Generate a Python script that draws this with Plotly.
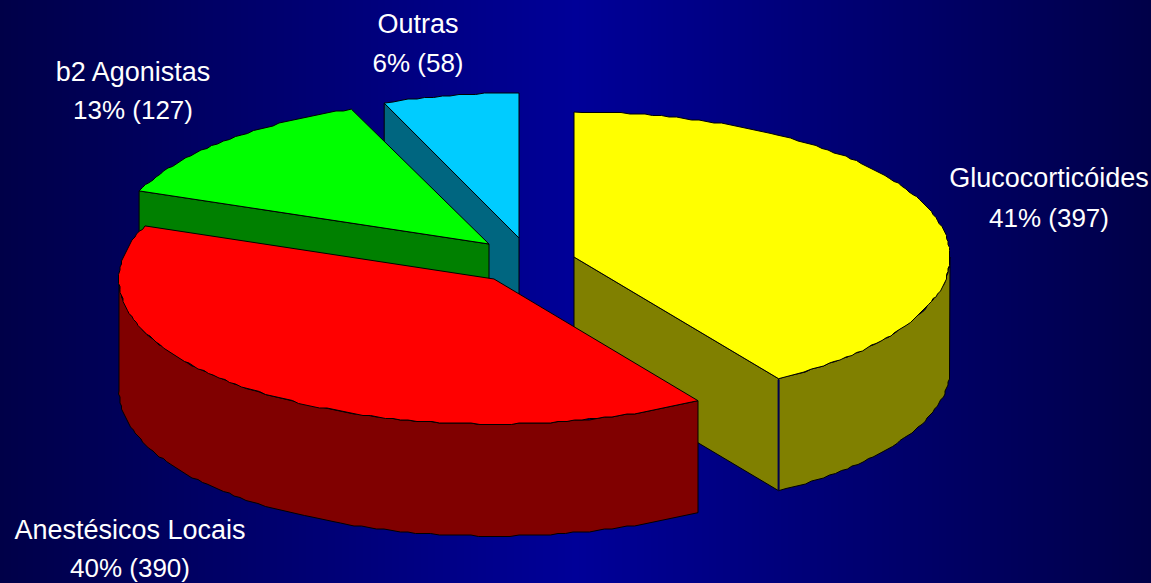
import numpy as np
import plotly.graph_objects as go

# Data
categories = ["Glucocorticóides", "Anestésicos Locais", "b2 Agonistas", "Outras"]
values = [397, 390, 127, 58]

# Colours
top_colors = ["#FFFF00", "#FF0000", "#00FF00", "#00CCFF"]
wall_colors = ["#808000", "#800000", "#008000", "#006680"]

# Pie geometry in page pixels
radius_x = [376, 375, 376, 368]
RY, DEPTH = 145, 112
GRID = 1.5  # the reference's curved edges are slightly stepped
apex_x = [574, 494, 489, 519]
apex_y = [257, 279, 244, 238]
label_x = [1049, 130, 133, 418]
name_y = [180, 532, 74, 26]
share_y = [220, 570, 112, 65]

total = sum(values)
edges = np.concatenate([[0], np.cumsum(values)]) / total * 2 * np.pi


def rim(i, a0, a1):
    n = max(2, int(abs(a1 - a0) / np.radians(1.2)))
    t = np.linspace(a0, a1, n)
    x = apex_x[i] + radius_x[i] * np.sin(t)
    y = apex_y[i] - RY * np.cos(t)
    # keep exact ends, step the points between them
    x[1:-1] = np.round(x[1:-1] / GRID) * GRID
    y[1:-1] = np.round(y[1:-1] / GRID) * GRID
    return x, y


def poly(xs, ys, fill, line="#000000"):
    return go.Scatter(x=np.round(xs, 1).tolist(), y=np.round(ys, 1).tolist(), mode="lines",
                      fill="toself", fillcolor=fill,
                      line=dict(color=line, width=1), hoverinfo="skip", showlegend=False)


def top(i):
    x, y = rim(i, edges[i], edges[i + 1])
    return poly(np.r_[apex_x[i], x, apex_x[i]], np.r_[apex_y[i], y, apex_y[i]], top_colors[i])


def flat_wall(i, a):
    x = apex_x[i] + radius_x[i] * np.sin(a)
    y = apex_y[i] - RY * np.cos(a)
    ax, ay = apex_x[i], apex_y[i]
    return poly(np.array([ax, x, x, ax, ax]), np.array([ay, y, y + DEPTH, ay + DEPTH, ay]), wall_colors[i])


def outer_wall(i, a0, a1):
    x, y = rim(i, a0, a1)
    return poly(np.r_[x, x[::-1], x[0]], np.r_[y, y[::-1] + DEPTH, y[0]], wall_colors[i])


fig = go.Figure()

# Background: horizontal gradient, dark at both sides and bright in the middle
bg_x = [0, 575, 1151]
fig.add_trace(go.Heatmap(x=bg_x, y=[0, 583], z=[[0, 1, 0], [0, 1, 0]], zsmooth="best",
                         colorscale=[[0, "#000048"], [1, "#000098"]], showscale=False,
                         hoverinfo="skip"))

# Painter's order: back slices first
fig.add_trace(flat_wall(3, edges[3]))
fig.add_trace(top(3))
fig.add_trace(flat_wall(2, edges[2]))
fig.add_trace(top(2))
fig.add_trace(flat_wall(0, edges[1]))
fig.add_trace(outer_wall(0, np.pi / 2, edges[1]))
sx = apex_x[0] + radius_x[0] * np.sin(edges[1])
sy = apex_y[0] - RY * np.cos(edges[1])
fig.add_trace(go.Scatter(x=[sx, sx], y=[sy + 1, sy + DEPTH], mode="lines",
                         line=dict(color="#000050", width=2), hoverinfo="skip", showlegend=False))
fig.add_trace(top(0))
fig.add_trace(outer_wall(1, edges[1], 1.5 * np.pi))
fig.add_trace(top(1))

# Labels
names = categories
shares = [f"{round(v / total * 100)}% ({v})" for v in values]
fam = "Liberation Sans, Arial, sans-serif"
fig.add_trace(go.Scatter(x=label_x, y=name_y, text=names, mode="text", textposition="middle center",
                         textfont=dict(family=fam, size=27, color="#FFFFFF"),
                         hoverinfo="skip", showlegend=False, cliponaxis=False))
fig.add_trace(go.Scatter(x=label_x, y=share_y, text=shares, mode="text", textposition="middle center",
                         textfont=dict(family=fam, size=26, color="#FFFFFF"),
                         hoverinfo="skip", showlegend=False, cliponaxis=False))

fig.update_layout(
    width=1151, height=583, margin=dict(l=0, r=0, t=0, b=0),
    paper_bgcolor="#00007A", plot_bgcolor="rgba(0,0,0,0)", showlegend=False,
    xaxis=dict(range=[0, 1151], visible=False, fixedrange=True),
    yaxis=dict(range=[583, 0], visible=False, fixedrange=True),
)
fig.write_html(
    "out.html",
    config={"displayModeBar": False},
    post_script="document.body.style.margin='0';document.body.style.overflow='hidden';"
                "document.body.style.background='#000048';",
)
